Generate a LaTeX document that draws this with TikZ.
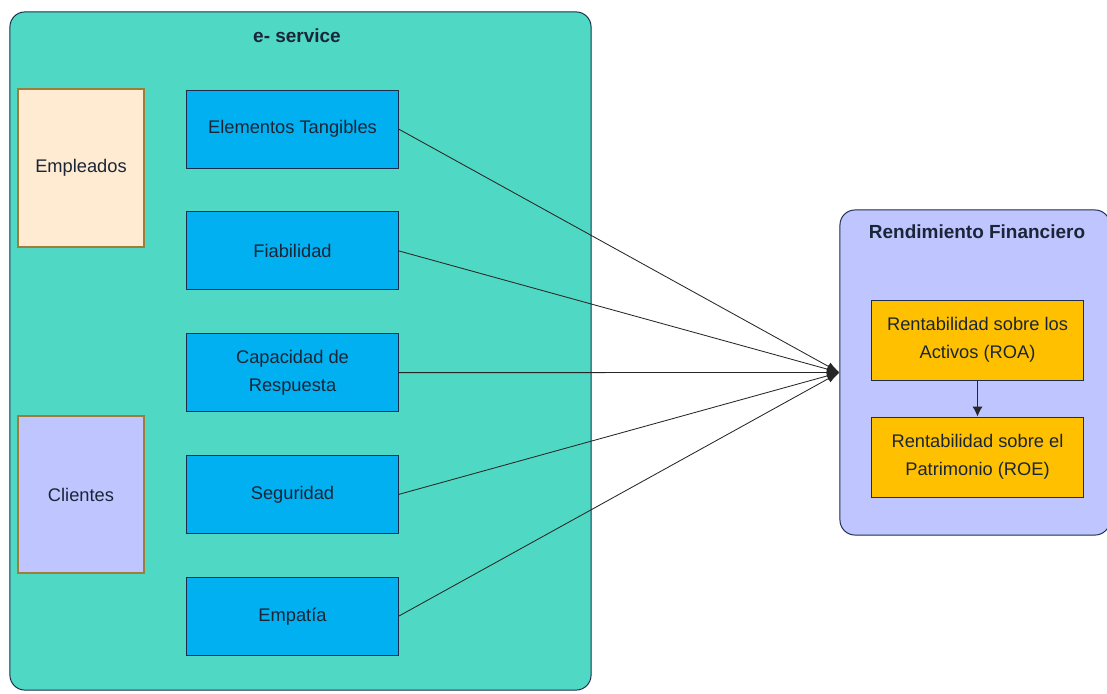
\documentclass[tikz,border=0pt]{standalone}
\usepackage{fontspec}
\setmainfont{Liberation Sans}
\usetikzlibrary{arrows.meta, positioning}
\definecolor{turq}{RGB}{79,216,196}
\definecolor{dimblue}{RGB}{0,176,240}
\definecolor{amber}{RGB}{255,192,0}
\definecolor{lavender}{RGB}{191,198,255}
\definecolor{bisque}{RGB}{255,235,210}
\definecolor{actoredge}{RGB}{158,124,58}
\definecolor{edge}{RGB}{30,45,75}
\definecolor{ink}{RGB}{26,38,56}

\begin{document}
\begin{tikzpicture}[
    x=0.025cm, y=-0.025cm,
    >=Latex,
    box/.style={draw=edge, line width=0.7pt, minimum width=5.275cm, minimum height=1.95cm,
                font=\fontsize{13}{20}\selectfont, text=ink, align=center},
    dimbox/.style={box, fill=dimblue},
    ratiobox/.style={box, fill=amber, minimum height=2cm},
    actorbox/.style={box, draw=actoredge, line width=2pt, minimum width=3.15cm, minimum height=3.95cm},
    group/.style={draw=edge, line width=0.7pt, rounded corners=0.375cm},
    grouptitle/.style={font=\fontsize{13.5}{16}\selectfont\bfseries, text=ink},
    arr/.style={->, line width=0.6pt, draw=black!85, arrows={-Latex[length=9pt, width=6pt]}},
]
\useasboundingbox (0,0) rectangle (1107,693);
% === e-service group, with its two actors on the left ===
\node[group, fill=turq, minimum width=14.525cm, minimum height=16.95cm] (eservice) at (300.5,351) {};
\node[grouptitle] (eservicetitle) at (297,36) {e- service};
\node[actorbox, fill=bisque] (empleados) at (81,168) {Empleados};
\node[actorbox, fill=lavender, minimum height=3.925cm] (clientes) at (81,494.5) {Clientes};
% === Quality dimensions ===
\node[dimbox] (tangibles) at (292.5,129) {Elementos Tangibles};
\node[dimbox, below=1.07cm of tangibles] (fiabilidad) {Fiabilidad};
\node[dimbox, below=1.07cm of fiabilidad] (capacidad) {Capacidad de\\Respuesta};
\node[dimbox, below=1.07cm of capacidad] (seguridad) {Seguridad};
\node[dimbox, below=1.07cm of seguridad] (empatia) {Empatía};
% === Financial performance group ===
\node[group, fill=lavender, minimum width=6.75cm, minimum height=8.125cm] (rendimiento) at (975,372.5) {};
\node[grouptitle] (rendtitle) at (977,232) {Rendimiento Financiero};
\node[ratiobox] (roa) at (977.5,340) {Rentabilidad sobre los\\Activos (ROA)};
\node[ratiobox, below=0.9cm of roa] (roe) {Rentabilidad sobre el\\Patrimonio (ROE)};
\draw[arr, arrows={-Latex[length=7pt, width=7pt]}] (roa) -- (roe);
% every dimension points at the financial group
\foreach \d in {tangibles, fiabilidad, capacidad, seguridad, empatia}
    \draw[arr] (\d.east) -- (rendimiento.west);
\end{tikzpicture}
\end{document}
